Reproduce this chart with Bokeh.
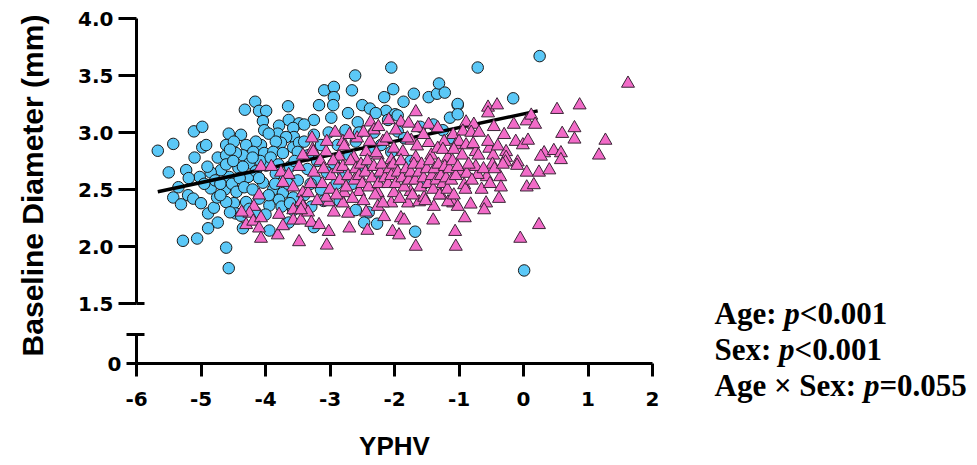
from math import pi
from bokeh.plotting import figure
from bokeh.models import Range1d, FixedTicker, Label
from bokeh.layouts import row, column
from bokeh.embed import file_html
from bokeh.resources import INLINE

# ---------------- data ----------------
# Males (blue circles): (YPHV, baseline diameter mm)
male_points = [
    (-5.67, 2.84), (-5.43, 2.90), (-5.11, 3.01), (-4.98, 3.05), (-4.98, 2.87), (-4.92, 2.89), (-5.10, 2.78),
    (-4.74, 2.78), (-4.61, 2.89), (-4.57, 2.99), (-4.38, 2.98), (-4.49, 2.92), (-4.32, 3.20), (-4.16, 3.27),
    (-4.10, 3.19), (-3.99, 3.19), (-4.04, 3.10), (-4.02, 3.02), (-3.65, 3.23), (-3.64, 3.11), (-3.48, 3.08),
    (-3.79, 3.06), (-3.81, 2.99), (-3.95, 2.99), (-3.57, 3.04), (-3.56, 2.96), (-3.68, 2.96), (-3.76, 2.91),
    (-3.84, 2.92), (-4.07, 2.89), (-4.15, 2.92), (-4.30, 2.89), (-4.19, 2.83), (-4.02, 2.82), (-3.88, 2.83),
    (-3.73, 2.82), (-3.57, 2.87), (-3.48, 2.91), (-3.50, 2.83), (-4.35, 2.80), (-4.46, 2.82), (-4.61, 2.80),
    (-5.43, 2.43), (-5.31, 2.37), (-5.20, 2.45), (-5.12, 2.42), (-5.00, 2.38), (-4.89, 2.29), (-4.80, 2.34),
    (-4.85, 2.51), (-4.75, 2.43), (-4.63, 2.50), (-5.23, 2.67), (-5.02, 2.61), (-5.19, 2.60), (-4.74, 2.21),
    (-4.89, 2.16), (-5.28, 2.05), (-5.06, 2.07), (-4.61, 1.99), (-4.57, 1.81), (-4.49, 2.38), (-4.46, 2.29),
    (-4.38, 2.27), (-4.35, 2.16), (-3.94, 2.14), (-4.61, 2.39), (-4.30, 2.39), (-4.10, 2.42), (-4.27, 2.61),
    (-4.56, 2.61), (-4.42, 2.69), (-4.69, 2.67), (-4.61, 2.72), (-4.25, 2.73), (-3.99, 2.71), (-3.84, 2.64),
    (-4.04, 2.56), (-3.88, 2.50), (-3.73, 2.47), (-3.79, 2.41), (-3.94, 2.36), (-3.57, 2.43), (-3.50, 2.58),
    (-3.57, 2.32), (-3.64, 2.21),
    (-4.85, 2.65), (-4.78, 2.58), (-4.70, 2.55), (-4.52, 2.55), (-4.45, 2.48), (-4.40, 2.60), (-4.33, 2.52),
    (-4.20, 2.50), (-4.15, 2.66), (-4.08, 2.75), (-3.92, 2.78), (-3.80, 2.72), (-3.70, 2.62), (-3.62, 2.70),
    (-3.65, 2.55), (-3.55, 2.75), (-4.50, 2.75), (-4.35, 2.70), (-4.20, 2.78), (-4.70, 2.45), (-4.55, 2.85),
    (-4.10, 2.60), (-3.95, 2.45), (-3.85, 2.55), (-3.75, 2.35), (-4.25, 2.33), (-4.15, 2.30), (-4.00, 2.28),
    (-3.62, 2.38), (-4.55, 2.30), (-4.90, 2.70), (-4.95, 2.55), (-5.35, 2.52), (-5.50, 2.65),
    (-2.05, 3.57), (-2.61, 3.50), (-2.66, 3.37), (-3.09, 3.37), (-2.94, 3.40), (-2.94, 3.31), (-2.02, 3.38),
    (-2.16, 3.31), (-1.86, 3.27), (-1.70, 3.34), (-1.47, 3.31), (-1.34, 3.34), (-1.31, 3.43), (-1.22, 3.35),
    (-1.02, 3.24), (-1.14, 3.13), (-2.50, 3.24), (-2.38, 3.21), (-2.13, 3.19), (-1.99, 3.16), (-1.95, 3.01),
    (-3.17, 3.24), (-2.95, 3.24), (-3.25, 3.11), (-2.98, 3.13), (-2.72, 3.17), (-2.57, 3.09), (-2.29, 3.17),
    (-2.10, 3.11), (-1.95, 3.15), (-3.25, 2.98), (-3.02, 3.00), (-2.76, 3.02), (-2.55, 3.00), (-2.32, 3.00),
    (-3.40, 3.07), (-3.40, 2.92), (-3.14, 2.89), (-2.88, 2.89), (-2.60, 2.92), (-2.40, 2.86), (-2.21, 2.89),
    (-2.05, 2.83), (-3.34, 2.80), (-2.70, 2.80), (-1.40, 3.07),
    (-3.14, 2.50), (-3.25, 2.17), (-2.47, 2.21), (-2.27, 2.20), (-1.68, 2.13), (-2.40, 2.30), (-2.60, 2.32),
    (-3.29, 2.35), (-2.94, 2.73), (-3.22, 2.58),
    (-3.35, 2.68), (-3.20, 2.75), (-3.05, 2.65), (-2.90, 2.55), (-2.80, 2.65), (-3.40, 2.45), (-3.10, 2.40),
    (-2.85, 2.40), (-2.65, 2.55), (-2.50, 2.70), (-3.30, 2.55), (-1.85, 2.95), (-1.60, 3.05), (-1.75, 2.75),
    (-1.55, 2.55), (-1.25, 3.02), (-1.10, 2.95), (-2.25, 2.60),
    (-0.71, 3.57), (0.25, 3.67), (-0.16, 3.30), (-1.02, 3.25), (-1.02, 3.16), (0.01, 1.79),
]

# Females (pink triangles)
female_points = [
    (-4.07, 2.70), (-3.91, 2.70), (-3.76, 2.65), (-3.64, 2.63), (-3.48, 2.70), (-4.10, 2.45), (-3.73, 2.56),
    (-3.57, 2.52), (-3.42, 2.47), (-4.18, 2.35), (-4.25, 2.29), (-4.30, 2.19), (-4.19, 2.22), (-4.07, 2.25),
    (-4.10, 2.16), (-4.07, 2.07), (-3.81, 2.10), (-3.73, 2.18), (-3.79, 2.28), (-3.57, 2.32), (-3.57, 2.23),
    (-3.45, 2.23), (-3.48, 2.04), (-3.45, 2.39), (-3.42, 2.35), (-4.37, 2.30), (-3.42, 2.80), (-3.27, 2.85),
    (-3.05, 2.01), (-3.02, 2.13), (-2.70, 2.16), (-2.42, 2.14), (-2.03, 2.13), (-1.93, 2.10), (-1.67, 2.00),
    (-1.05, 2.00), (-1.06, 2.13), (-3.34, 2.30), (-3.29, 2.21), (-3.17, 2.19), (-2.94, 2.30), (-2.72, 2.29),
    (-2.44, 2.30), (-2.16, 2.26), (-1.90, 2.25), (-1.85, 2.23), (-1.40, 2.23), (-1.39, 2.35), (-1.09, 2.38),
    (-1.02, 2.35), (-2.26, 2.35), (-2.05, 2.38), (-1.79, 2.38), (-1.62, 2.39), (-2.80, 2.38), (-3.02, 2.39),
    (-3.45, 2.32), (-3.34, 2.47), (-3.06, 2.43), (-2.78, 2.47), (-2.55, 2.48), (-2.26, 2.47), (-2.01, 2.47),
    (-1.75, 2.48), (-1.54, 2.43), (-1.28, 2.45), (-1.17, 2.39),
    (-1.67, 3.18), (-2.37, 3.09), (-2.09, 3.11), (-1.90, 3.09), (-1.64, 3.04), (-1.47, 3.07), (-1.33, 3.04),
    (-1.09, 2.98), (-2.80, 2.92), (-2.32, 3.02), (-2.18, 2.92), (-2.01, 2.86), (-1.74, 2.93), (-1.47, 2.91),
    (-1.23, 2.92), (-1.05, 2.89), (-3.26, 2.83), (-3.06, 2.83), (-2.86, 2.79), (-2.63, 2.78), (-2.44, 2.83),
    (-2.26, 2.80), (-2.05, 2.76), (-1.87, 2.83), (-1.67, 2.78), (-1.43, 2.80), (-1.33, 2.86), (-1.17, 2.78),
    (-0.89, 3.09), (-0.77, 3.07), (-0.94, 3.01), (-0.81, 3.00), (-0.69, 3.00), (-0.46, 3.05), (-0.30, 2.98),
    (-1.00, 2.92), (-0.89, 2.89), (-0.74, 2.83), (-0.53, 2.86), (-0.47, 2.80), (-0.27, 2.83), (-0.12, 2.92),
    (-0.01, 2.89), (0.07, 2.93), (-0.55, 3.22), (-0.41, 3.24), (-0.55, 3.17), (-0.15, 3.07), (0.05, 3.10),
    (0.12, 3.15), (0.18, 3.07), (0.52, 3.20), (0.87, 3.24), (1.62, 3.43), (0.60, 2.99), (0.79, 3.04),
    (0.79, 2.94), (1.27, 2.93), (1.17, 2.80), (0.32, 2.82), (0.47, 2.84), (0.58, 2.82), (0.27, 2.79),
    (-0.27, 2.78), (-0.09, 2.74),
    (0.05, 2.65), (0.24, 2.65), (0.40, 2.67), (0.05, 2.52), (0.16, 2.54), (0.24, 2.19), (-0.05, 2.07),
    (-0.38, 2.42), (-0.58, 2.38), (-0.61, 2.32), (-0.91, 2.25), (-0.82, 2.37), (-0.10, 2.71), (-0.28, 2.74),
    (0.58, 2.76), (-0.57, 2.61), (-0.36, 2.61), (-0.92, 2.54), (-0.71, 2.63), (-0.48, 2.72), (-0.74, 2.70),
    (-0.98, 2.66), (-0.88, 2.64),
    (-3.30, 2.55), (-3.25, 2.65), (-3.20, 2.40),
    (-3.15, 2.75), (-3.12, 2.55), (-3.10, 2.68), (-3.05, 2.92), (-3.00, 2.50), (-2.98, 2.62), (-2.95, 2.75),
    (-2.90, 2.45), (-2.88, 2.68), (-2.85, 2.58), (-2.80, 2.70), (-2.78, 2.88), (-2.75, 2.52), (-2.72, 2.62),
    (-2.68, 2.75), (-2.65, 2.42), (-2.62, 2.58), (-2.60, 2.68), (-2.58, 2.95), (-2.55, 2.62), (-2.52, 2.72),
    (-2.50, 2.55), (-2.48, 2.40), (-2.45, 2.65), (-2.42, 2.75), (-2.40, 2.52), (-2.38, 2.92), (-2.35, 2.60),
    (-2.32, 2.70), (-2.30, 2.45), (-2.28, 2.82), (-2.25, 2.55), (-2.22, 2.65), (-2.20, 2.72), (-2.18, 2.38),
    (-2.15, 2.60), (-2.12, 2.95), (-2.10, 2.55), (-2.08, 2.68), (-2.05, 2.62), (-2.02, 2.72), (-1.98, 2.55),
    (-1.95, 2.65), (-1.92, 2.42), (-1.90, 2.75), (-1.88, 2.60), (-1.85, 2.52), (-1.82, 2.68), (-1.80, 2.95),
    (-1.78, 2.58), (-1.75, 2.65), (-1.72, 2.45), (-1.70, 2.72), (-1.68, 2.58), (-1.65, 2.88), (-1.62, 2.65),
    (-1.60, 2.52), (-1.58, 2.72), (-1.55, 2.60), (-1.52, 2.40), (-1.50, 2.68), (-1.48, 2.55), (-1.45, 2.75),
    (-1.42, 2.62), (-1.40, 2.50), (-1.38, 2.68), (-1.35, 2.58), (-1.32, 2.72), (-1.30, 2.45), (-1.28, 2.62),
    (-1.25, 2.55), (-1.22, 2.70), (-1.20, 2.60), (-1.18, 2.50), (-1.15, 2.68), (-1.12, 2.58), (-1.10, 2.75),
    (-1.08, 2.45), (-1.05, 2.62), (-1.02, 2.70), (-3.28, 2.95), (-2.92, 3.00), (-2.70, 2.98),
    (-2.48, 3.00), (-2.25, 3.05), (-1.98, 3.02), (-1.78, 3.08), (-1.55, 2.98), (-1.25, 2.85), (-1.08, 2.85),
    (-0.95, 2.80), (-0.90, 2.50), (-0.85, 2.72), (-0.80, 2.58), (-0.78, 2.90), (-0.70, 2.80), (-0.65, 2.50),
    (-0.62, 2.68), (-0.55, 2.92), (-0.52, 2.55), (-0.45, 2.68), (-0.40, 2.88), (-0.35, 2.52), (-0.32, 2.72),
]

# Fitted regression line (males), end points
fit_x = [-5.67, 0.22]
fit_y = [2.48, 3.19]

x_ticks = [-6, -5, -4, -3, -2, -1, 0, 1, 2]
x_tick_labels = ["-6", "-5", "-4", "-3", "-2", "-1", "0", "1", "2"]
y_ticks_upper = [1.5, 2.0, 2.5, 3.0, 3.5, 4.0]
y_tick_labels_upper = ["1.5", "2.0", "2.5", "3.0", "3.5", "4.0"]
y_ticks_lower = [0]
y_tick_labels_lower = ["0"]

stat_terms = ["Age: ", "Sex: ", "Age \u00d7 Sex: "]
stat_values = ["<0.001", "<0.001", "=0.055"]

x_title = "YPHV"
y_title = "Baseline Diameter (mm)"

# ---------------- styling ----------------
SANS = "Liberation Sans"
TICK_FONT = "DejaVu Sans"
SERIF = "Liberation Serif"
BLUE = "#5BC8F7"
PINK = "#F26BC8"

TOTAL_H = 463
LABEL_W = 64
MAIN_W = 598
TEXT_W = 975 - LABEL_W - MAIN_W
TOP_H = 315
BOT_H = TOTAL_H - TOP_H
PX_PER_UNIT = 114.0
LOWER_TOP = 30 / PX_PER_UNIT

male_x = [p[0] for p in male_points]
male_y = [p[1] for p in male_points]
female_x = [p[0] for p in female_points]
female_y = [p[1] for p in female_points]


def tick_key(t):
    return int(t) if float(t) == int(t) else t


def clean(p):
    p.grid.visible = False
    p.outline_line_color = None
    p.background_fill_color = "white"
    p.border_fill_color = "white"


def style_y(ax, ticks, labels, tick_out, cap_ticks, cap_out):
    ax.ticker = FixedTicker(ticks=ticks, minor_ticks=cap_ticks)
    ax.major_label_overrides = {tick_key(t): l for t, l in zip(ticks, labels)}
    ax.axis_line_width = 3
    ax.axis_line_color = "black"
    ax.major_tick_line_width = 3
    ax.minor_tick_line_width = 3
    ax.major_tick_out = tick_out
    ax.major_tick_in = 0
    ax.minor_tick_in = 8
    ax.minor_tick_out = cap_out
    ax.major_label_text_font = TICK_FONT
    ax.major_label_text_font_style = "bold"
    ax.major_label_text_font_size = "20px"
    ax.major_label_text_color = "black"
    ax.major_label_standoff = 5


x_range = Range1d(-6, 2)

# upper panel (1.5 - 4.0)
top = figure(width=MAIN_W, height=TOP_H, x_range=x_range, y_range=Range1d(1.5, 4.0),
             output_backend="svg", toolbar_location=None, x_axis_location=None,
             min_border_left=72, min_border_right=10, min_border_top=18, min_border_bottom=12)
clean(top)
style_y(top.yaxis[0], y_ticks_upper, y_tick_labels_upper, 18, [1.5], 0)

top.scatter(male_x, male_y, marker="circle", size=11.5, fill_color=BLUE,
            line_color="#1a1a1a", line_width=1)
top.line(fit_x, fit_y, line_color="black", line_width=3.5)
top.scatter(female_x, female_y, marker="triangle", size=13, fill_color=PINK,
            line_color="#3a2436", line_width=1)

# lower panel (0)
bottom = figure(width=MAIN_W, height=BOT_H, x_range=x_range, y_range=Range1d(0, LOWER_TOP),
                output_backend="svg", toolbar_location=None,
                min_border_left=72, min_border_right=10, min_border_top=19,
                min_border_bottom=BOT_H - 19 - 30)
clean(bottom)
style_y(bottom.yaxis[0], y_ticks_lower, y_tick_labels_lower, 10, [LOWER_TOP], 10)

xa = bottom.xaxis[0]
xa.ticker = FixedTicker(ticks=x_ticks, minor_ticks=[])
xa.major_label_overrides = {tick_key(t): l for t, l in zip(x_ticks, x_tick_labels)}
xa.axis_line_width = 3
xa.axis_line_color = "black"
xa.major_tick_line_width = 3
xa.major_tick_out = 13
xa.major_tick_in = 0
xa.minor_tick_out = 0
xa.minor_tick_in = 0
xa.major_label_text_font = TICK_FONT
xa.major_label_text_font_style = "bold"
xa.major_label_text_font_size = "20px"
xa.major_label_text_color = "black"
xa.major_label_standoff = 15
xa.axis_label = x_title
xa.axis_label_text_font = SANS
xa.axis_label_text_font_style = "bold"
xa.axis_label_text_font_size = "26px"
xa.axis_label_text_color = "black"
xa.axis_label_standoff = 22

# y title panel
label_fig = figure(width=LABEL_W, height=TOTAL_H, x_range=Range1d(0, LABEL_W), y_range=Range1d(0, TOTAL_H),
                   output_backend="svg", toolbar_location=None, x_axis_location=None, y_axis_location=None,
                   min_border=0)
clean(label_fig)
label_fig.add_layout(Label(x=32, y=TOTAL_H - 185, text=y_title, angle=pi / 2,
                           text_align="center", text_baseline="middle",
                           text_font=SANS, text_font_style="bold", text_font_size="30px",
                           text_color="black"))

# statistics text panel
text_fig = figure(width=TEXT_W, height=TOTAL_H, x_range=Range1d(0, TEXT_W), y_range=Range1d(0, TOTAL_H),
                  output_backend="svg", toolbar_location=None, x_axis_location=None, y_axis_location=None,
                  min_border=0)
clean(text_fig)
FS = 31
term_w = [2.249 * FS, 2.083 * FS, 4.819 * FS]
p_w = 0.5 * FS
baselines = [313, 349, 385]
x0 = 714 - (LABEL_W + MAIN_W)
for term, val, w, b in zip(stat_terms, stat_values, term_w, baselines):
    y = TOTAL_H - b
    common = dict(y=y, text_align="left", text_baseline="alphabetic", text_font=SERIF,
                  text_font_size=f"{FS}px", text_color="black")
    text_fig.add_layout(Label(x=x0, text=term, text_font_style="bold", **common))
    text_fig.add_layout(Label(x=x0 + w, text="p", text_font_style="bold italic", **common))
    text_fig.add_layout(Label(x=x0 + w + p_w, text=val, text_font_style="bold", **common))

layout = row(label_fig, column(top, bottom, spacing=0), text_fig, spacing=0)

open("out.html", "w").write(file_html(layout, INLINE))
